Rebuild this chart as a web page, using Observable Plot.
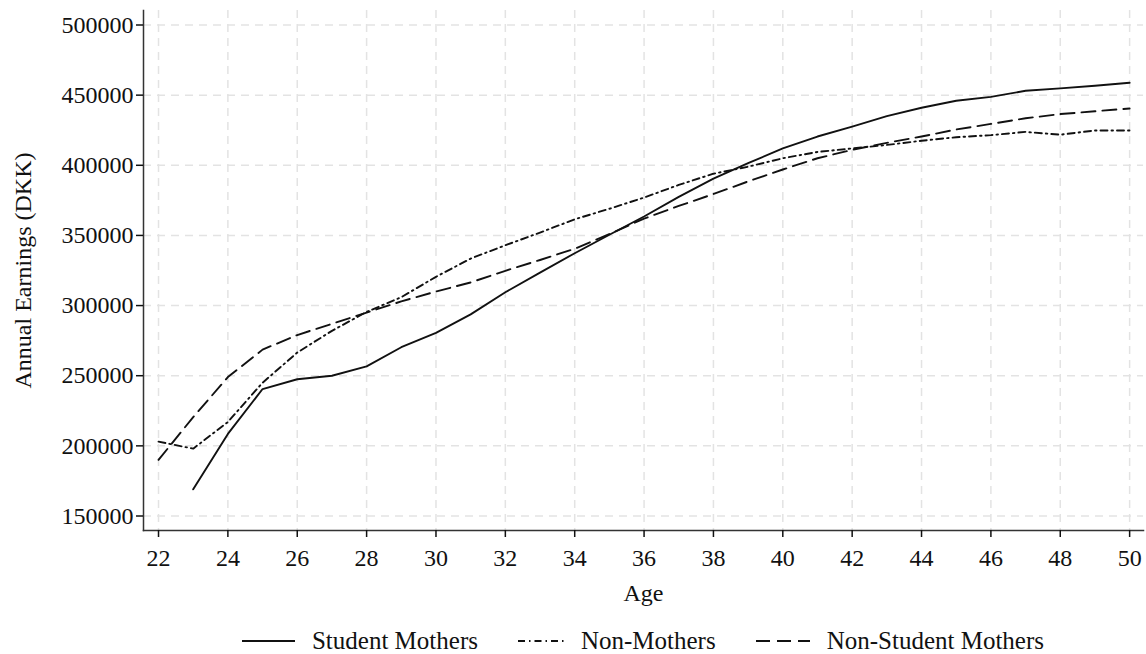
<!DOCTYPE html>
<html><head><meta charset="utf-8">
<script src="https://cdn.jsdelivr.net/npm/d3@7"></script>
<script src="https://cdn.jsdelivr.net/npm/@observablehq/plot@0.6"></script>
<style>
body{margin:0;background:#fff;font-family:"Liberation Serif","Times New Roman",serif;}
#legend{display:flex;justify-content:center;align-items:center;margin-left:143px;width:1000px;height:38px;font-size:25px;color:#111}
.item{display:flex;align-items:center;margin:0 20px}
.item svg{margin-right:17px}
</style></head><body>
<div id="chart"></div><div id="legend"></div>
<script>
const ages = [22,23,24,25,26,27,28,29,30,31,32,33,34,35,36,37,38,39,40,41,42,43,44,45,46,47,48,49,50];
const studentMothers = [null,169000,208500,240500,247500,250000,256700,270300,280500,293700,309500,323500,337300,350500,363500,377500,390500,401500,412000,420500,427500,435000,441000,446000,448800,453100,454800,456700,458800];
const nonMothers = [203000,198000,217000,245000,266500,282000,295500,306000,320500,333500,343000,352000,361500,369000,377000,386000,394000,399000,405000,409500,412000,414500,417500,420000,421500,423800,421800,424800,424800];
const nonStudentMothers = [190000,220500,249000,268600,279000,287000,295000,303000,310000,316500,324800,332500,340500,351000,362000,371000,379500,388500,397000,405000,411000,416000,420500,425500,429500,433500,436500,438500,440500];
const seriesNames = ["Student Mothers","Non-Mothers","Non-Student Mothers"];
const seriesDash = ["none","7,4,1.5,4","14,7"];
const xTicks = [22,24,26,28,30,32,34,36,38,40,42,44,46,48,50];
const yTicks = [150000,200000,250000,300000,350000,400000,450000,500000];

const seriesValues = [studentMothers, nonMothers, nonStudentMothers];
const tables = seriesValues.map((vals, i) =>
  ages.map((a, j) => ({age: a, value: vals[j], series: seriesNames[i]})).filter(d => d.value != null));

const gridStyle = {stroke:"#e3e3e3", strokeOpacity:1, strokeWidth:1.5, strokeDasharray:"8,6"};

const plot = Plot.plot({
  width:1146, height:622,
  marginLeft:143, marginRight:3, marginTop:10, marginBottom:92,
  style:{fontFamily:"'Liberation Serif','Times New Roman',serif", fontSize:"24px", color:"#111", background:"#fff"},
  x:{domain:[21.567,50.4]},
  y:{domain:[139664,510336]},
  marks:[
    Plot.gridX(xTicks, gridStyle),
    Plot.gridY(yTicks, gridStyle),
    Plot.frame({anchor:"left", stroke:"#333", strokeWidth:1.5}),
    Plot.frame({anchor:"bottom", stroke:"#333", strokeWidth:1.5}),
    Plot.axisX({ticks:xTicks, tickSize:7, tickPadding:11, tickFormat:d=>String(d), label:"Age", labelArrow:"none", labelAnchor:"center", labelOffset:70, strokeWidth:1.5}),
    Plot.axisY({ticks:yTicks, tickSize:7, tickPadding:3, tickFormat:d=>String(d), label:"Annual Earnings (DKK)", labelArrow:"none", labelAnchor:"center", labelOffset:130, strokeWidth:1.5}),
    ...tables.map((t, i) => Plot.line(t, {x:"age", y:"value", stroke:"#111", strokeWidth:1.9, strokeDasharray:seriesDash[i] === "none" ? null : seriesDash[i]}))
  ]
});
document.getElementById("chart").appendChild(plot);

const legend = document.getElementById("legend");
const swW = [53, 46, 54];
seriesNames.forEach((name, i) => {
  const item = document.createElement("div");
  item.className = "item";
  const dash = seriesDash[i] === "none" ? "" : `stroke-dasharray="${seriesDash[i]}"`;
  item.innerHTML = `<svg width="${swW[i]}" height="10"><line x1="0" y1="5" x2="${swW[i]}" y2="5" stroke="#111" stroke-width="2" ${dash}/></svg><span>${name}</span>`;
  legend.appendChild(item);
});
</script>
</body></html>
